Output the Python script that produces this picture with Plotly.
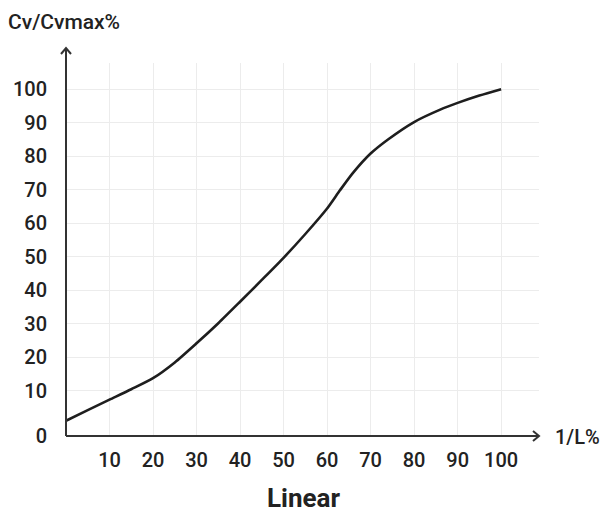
import plotly.graph_objects as go

# Data
x_vals = [0, 5, 10, 15, 20, 25, 30, 35, 40, 45, 50, 55, 60, 63, 66, 70, 74, 80, 86, 90, 95, 100]
y_vals = [1.1, 4.3, 7.4, 10.5, 13.8, 18.5, 24.2, 30.2, 36.6, 43.1, 49.7, 56.8, 64.4, 69.9, 75.1, 80.8, 85.0, 90.2, 93.9, 95.9, 98.1, 100]

x_ticks = [10, 20, 30, 40, 50, 60, 70, 80, 90, 100]
y_ticks = [10, 20, 30, 40, 50, 60, 70, 80, 90, 100]
y_zero_label = "0"
x_title = "1/L%"
y_title = "Cv/Cvmax%"
chart_title = "Linear"

X_MAX = 108.7
Y_MIN, Y_MAX = -3.44, 107.8

FONT = "Roboto"
TXT = "#222222"
AX = "#333333"

# page body has an 8px margin, so the figure is drawn 8px in and 8px down
W, H = 600, 505
L, R, T, B = 58, 69, 55, 77
PW, PH = W - L - R, H - T - B

fig = go.Figure()
fig.add_trace(go.Scatter(
    x=x_vals, y=y_vals, mode="lines",
    line=dict(color="#1e1e1e", width=2.6, shape="spline", smoothing=0.7),
    hoverinfo="skip", showlegend=False, cliponaxis=False,
))

tickfont = dict(family=FONT, size=20, color=TXT, weight=500)
fig.update_layout(
    width=W, height=H,
    margin=dict(l=L, r=R, t=T, b=B, autoexpand=False),
    paper_bgcolor="white", plot_bgcolor="white",
    xaxis=dict(range=[0, X_MAX], tickvals=x_ticks, ticktext=[str(v) for v in x_ticks],
               showgrid=True, gridcolor="#ececec", gridwidth=1, zeroline=False,
               showline=False, ticks="", ticklabelstandoff=10, tickfont=tickfont,
               automargin=False),
    yaxis=dict(range=[Y_MIN, Y_MAX], tickvals=[Y_MIN] + y_ticks,
               ticktext=[y_zero_label] + [str(v) for v in y_ticks],
               showgrid=True, gridcolor="#ececec", gridwidth=1, zeroline=False,
               showline=False, ticks="", ticklabelstandoff=18, tickfont=tickfont,
               automargin=False),
)

line = dict(color=AX, width=2)
top = 1 + 15 / PH
fig.add_shape(type="line", xref="paper", yref="paper", x0=0, y0=0, x1=0, y1=top, line=line)
fig.add_shape(type="line", xref="paper", yref="paper", x0=0, y0=0, x1=1.0, y1=0, line=line)
fig.add_shape(type="path", xref="paper", yref="paper", xsizemode="pixel", ysizemode="pixel",
              xanchor=0, yanchor=top, path="M -5,-6 L 0,0 L 5,-6", line=line)
fig.add_shape(type="path", xref="paper", yref="paper", xsizemode="pixel", ysizemode="pixel",
              xanchor=1.0, yanchor=0, path="M -6,5 L 0,0 L -6,-5", line=line)

fig.add_annotation(text=y_title, xref="paper", yref="paper", x=(-2 - L) / PW, y=1 + (T - 14) / PH,
                   xanchor="left", yanchor="middle", showarrow=False,
                   font=dict(family=FONT, size=21, color=TXT, weight=500))
fig.add_annotation(text=x_title, xref="paper", yref="paper", x=1 + 14 / PW, y=-1 / PH,
                   xanchor="left", yanchor="middle", showarrow=False,
                   font=dict(family=FONT, size=20, color=TXT, weight=500))
fig.add_annotation(text=chart_title, xref="paper", yref="paper", x=(295 - L) / PW,
                   y=-(498 - 8 - (T + PH)) / PH,
                   xanchor="center", yanchor="middle", showarrow=False,
                   font=dict(family=FONT, size=26, color=TXT, weight=700))

fig.write_html("out.html")
